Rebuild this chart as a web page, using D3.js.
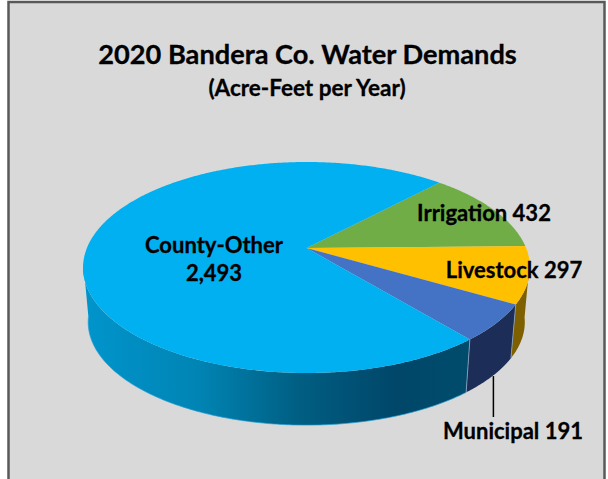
<!DOCTYPE html>
<head>
  <meta charset="utf-8">
  <script src="https://d3js.org/d3.v7.min.js"></script>
  <style>
    body { margin:0; background:white; }
    svg { display:block; }
    text { font-family:Lato, sans-serif; font-weight:700; fill:#000; stroke:#000; stroke-width:0.3px; }
  </style>
</head>
<body>
  <script>
  const categories = ['Irrigation', 'Livestock', 'Municipal', 'County-Other'];
  const demands = [432, 297, 191, 2493];
  const demandLabels = ['432', '297', '191', '2,493'];
  const topColors = ['#70ad47', '#ffc000', '#4472c4', '#00b0f0'];
  const wallColors = ['#43682b', '#7f6000', '#1c2d58', '#005a7c'];
  const firstAngle = 43.3 * Math.PI / 180;

  const width = 608, height = 479;
  const svg = d3.select('body').append('svg')
                .attr('width', width)
                .attr('height', height);

  // chart area, runs off the bottom of the picture like the original
  svg.append('rect')
     .attr('x', 8.5).attr('y', 2)
     .attr('width', 596).attr('height', height)
     .style('fill', '#d9d9d9')
     .style('stroke', '#595959')
     .style('stroke-width', 2.5);

  svg.append('text').attr('x', 307.5).attr('y', 64)
     .attr('text-anchor', 'middle').style('font-size', '27.2px')
     .text('2020 Bandera Co. Water Demands');
  svg.append('text').attr('x', 307).attr('y', 96)
     .attr('text-anchor', 'middle').style('font-size', '22.5px')
     .text('(Acre-Feet per Year)');

  // tilted disc with some perspective: the apex sits above the ellipse centre
  const k = 0.1847, rimX = 219.6, rimY = 101.9;
  const cx = 306.5, topY = 248, depth = 55, bottomScale = 0.977;
  const project = (a, r, y0, s) => {
    const u = r * Math.sin(a), v = -r * Math.cos(a), w = 1 - k * v;
    return [cx + s * rimX * u / w, y0 + s * rimY * v / w];
  };
  const topPoint = (a, r = 1) => project(a, r, topY, 1);
  const bottomPoint = a => project(a, 1, topY + depth, bottomScale);

  const pie = d3.pie().sort(null)
                .startAngle(firstAngle)
                .endAngle(firstAngle + 2 * Math.PI);
  const slices = pie(demands);
  const line = d3.line();
  const anglesBetween = (a0, a1) => {
    const n = Math.ceil((a1 - a0) / 0.01);
    return d3.range(n + 1).map(i => a0 + (a1 - a0) * i / n);
  };
  const rimAngles = d => anglesBetween(d.startAngle, d.endAngle);

  // only the front of the rim has a wall you can see
  const frontFrom = 98 * Math.PI / 180, frontTo = 262 * Math.PI / 180;
  const wallAngles = d => {
    const a0 = Math.max(d.startAngle, frontFrom), a1 = Math.min(d.endAngle, frontTo);
    return a1 > a0 ? anglesBetween(a0, a1) : [];
  };

  const defs = svg.append('defs');
  const grad = defs.append('linearGradient').attr('id', 'countyWall')
                   .attr('gradientUnits', 'userSpaceOnUse')
                   .attr('x1', 83).attr('x2', 472).attr('y1', 0).attr('y2', 0);
  [[0, '#0095cc'], [0.3, '#0084b4'], [0.55, '#005f83'], [0.8, '#00476a'], [1, '#004c6c']].forEach(s => {
    grad.append('stop').attr('offset', s[0]).attr('stop-color', s[1]);
  });

  svg.append('g').selectAll('path')
     .data(slices.filter(d => wallAngles(d).length))
     .enter()
     .append('path')
     .attr('d', d => {
       const as = wallAngles(d);
       return line(as.map(a => topPoint(a)).concat(as.slice().reverse().map(bottomPoint))) + 'Z';
     })
     .style('fill', d => d.index == 3 ? 'url(#countyWall)' : wallColors[d.index]);

  // thin light edges: along the foot of the disc and between the slices
  svg.append('path')
     .attr('d', line(wallAngles(slices[3]).map(bottomPoint)))
     .style('fill', 'none')
     .style('stroke', '#1c9fd6')
     .style('stroke-width', 0.7);
  svg.append('g').selectAll('line')
     .data([slices[2].startAngle, slices[2].endAngle])
     .enter()
     .append('line')
     .attr('x1', a => topPoint(a)[0]).attr('y1', a => topPoint(a)[1])
     .attr('x2', a => bottomPoint(a)[0]).attr('y2', a => bottomPoint(a)[1])
     .style('stroke', '#8fa9c4')
     .style('stroke-width', 0.8);

  svg.append('g').selectAll('path')
     .data(slices)
     .enter()
     .append('path')
     .attr('d', d => line([topPoint(0, 0)].concat(rimAngles(d).map(a => topPoint(a)))) + 'Z')
     .style('fill', (d, i) => topColors[i]);

  // leader line for the municipal label
  const leaderAngle = (slices[2].startAngle + slices[2].endAngle) / 2;
  const leaderX = bottomPoint(leaderAngle)[0] + 1;
  svg.append('line')
     .attr('x1', leaderX).attr('x2', leaderX)
     .attr('y1', bottomPoint(leaderAngle)[1]).attr('y2', 417)
     .style('stroke', '#000')
     .style('stroke-width', 1.5);

  const labelAt = [[484, 221], [514, 278], [513, 439]];
  labelAt.forEach((p, i) => {
    svg.append('text').attr('x', p[0]).attr('y', p[1])
       .attr('text-anchor', 'middle').style('font-size', '22px')
       .text(`${categories[i]} ${demandLabels[i]}`);
  });
  svg.append('text').attr('x', 214).attr('y', 253)
     .attr('text-anchor', 'middle').style('font-size', '22px')
     .text(categories[3]);
  svg.append('text').attr('x', 214).attr('y', 281)
     .attr('text-anchor', 'middle').style('font-size', '22px')
     .text(demandLabels[3]);
  </script>
</body>
